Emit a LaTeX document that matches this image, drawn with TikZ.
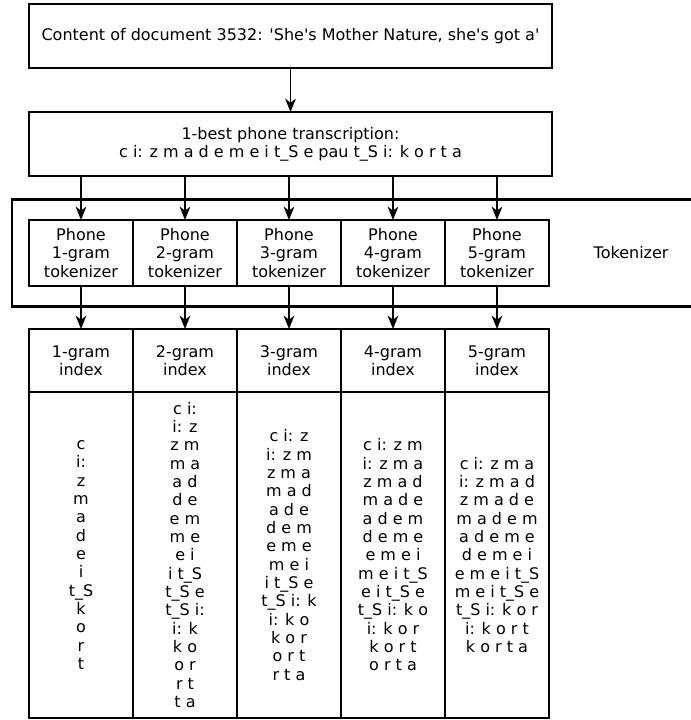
\documentclass[tikz,border=0pt]{standalone}
\usepackage{fontspec}
\setmainfont{DejaVu Sans}
\usetikzlibrary{positioning,fit,arrows.meta,backgrounds}
\pgfdeclarelayer{background}
\pgfsetlayers{background,main}
\tikzstyle{element} = [rectangle, draw=black, line width=1.9pt, outer sep=0pt, align=center, fill=white, font=\fontsize{12pt}{13.75pt}\selectfont]
\tikzstyle{group} = [rectangle, draw=black, line width=1.9pt, inner xsep=12.75pt, inner ysep=15.4pt]
\tikzstyle{arrow} = [line width=1.2pt, -{Stealth[length=10pt,width=8pt,inset=3pt]}]
\tikzstyle{caption} = [font=\fontsize{12pt}{13.75pt}\selectfont]

\begin{document}
\begin{tikzpicture}[x=0.75pt,y=-0.75pt]
    \useasboundingbox (0,0) rectangle (690,720);
    % Input ------------------------------------------------------------------------------------
    \node[element, minimum width=392.25pt, minimum height=48pt] (doc) at (290.5,36) {Content of document 3532: \textquotesingle She\textquotesingle s Mother Nature, she\textquotesingle s got a\textquotesingle};
    \node[element, minimum width=392.25pt, minimum height=48pt, below=33pt of doc] (trans) {1-best phone transcription:\\c i: z m a d e m e i t\_S e pau t\_S i: k o r t a};
    % Tokenizer --------------------------------------------------------------------------------
    \node[element, minimum width=78pt, minimum height=49.5pt, below right=33pt and 0pt of trans.south west] (tok1) {Phone\\1-gram\\tokenizer};
    \node[element, minimum width=78pt, minimum height=49.5pt, right=0pt of tok1] (tok2) {Phone\\2-gram\\tokenizer};
    \node[element, minimum width=78pt, minimum height=49.5pt, right=0pt of tok2] (tok3) {Phone\\3-gram\\tokenizer};
    \node[element, minimum width=78pt, minimum height=49.5pt, right=0pt of tok3] (tok4) {Phone\\4-gram\\tokenizer};
    \node[element, minimum width=78pt, minimum height=49.5pt, right=0pt of tok4] (tok5) {Phone\\5-gram\\tokenizer};
    \node[caption, right=30pt of tok5] (tok_label) {Tokenizer};
    \coordinate[right=130pt of tok5.east] (tok_edge);
    % Tokenizer group
    \begin{pgfonlayer}{background}
        \node[group, fit={(tok1) (tok5) (tok_edge)}] (tokenizer) {};
    \end{pgfonlayer}
    % Index ------------------------------------------------------------------------------------
    \node[element, minimum width=78pt, minimum height=47.25pt, below=32.25pt of tok1] (idx1) {1-gram\\index};
    \node[element, minimum width=78pt, minimum height=47.25pt, right=0pt of idx1] (idx2) {2-gram\\index};
    \node[element, minimum width=78pt, minimum height=47.25pt, right=0pt of idx2] (idx3) {3-gram\\index};
    \node[element, minimum width=78pt, minimum height=47.25pt, right=0pt of idx3] (idx4) {4-gram\\index};
    \node[element, minimum width=78pt, minimum height=47.25pt, right=0pt of idx4] (idx5) {5-gram\\index};
    % Index entries
    \node[element, minimum width=78pt, minimum height=244.5pt, below=0pt of idx1] (list1) {c\\i:\\z\\m\\a\\d\\e\\i\\t\_S\\k\\o\\r\\t};
    \node[element, minimum width=78pt, minimum height=244.5pt, below=0pt of idx2] (list2) {c i:\\i: z\\z m\\m a\\a d\\d e\\e m\\m e\\e i\\i t\_S\\t\_S e\\t\_S i:\\i: k\\k o\\o r\\r t\\t a};
    \node[element, minimum width=78pt, minimum height=244.5pt, below=0pt of idx3] (list3) {c i: z\\i: z m\\z m a\\m a d\\a d e\\d e m\\e m e\\m e i\\i t\_S e\\t\_S i: k\\i: k o\\k o r\\o r t\\r t a};
    \node[element, minimum width=78pt, minimum height=244.5pt, below=0pt of idx4] (list4) {c i: z m\\i: z m a\\z m a d\\m a d e\\a d e m\\d e m e\\e m e i\\m e i t\_S\\e i t\_S e\\t\_S i: k o\\i: k o r\\k o r t\\o r t a};
    \node[element, minimum width=78pt, minimum height=244.5pt, below=0pt of idx5] (list5) {c i: z m a\\i: z m a d\\z m a d e\\m a d e m\\a d e m e\\d e m e i\\e m e i t\_S\\m e i t\_S e\\t\_S i: k o r\\i: k o r t\\k o r t a};
    % Arrows -----------------------------------------------------------------------------------
    \draw[arrow] (doc.south) -- (trans.north);
    \draw[arrow] (tok1.north |- trans.south) -- (tok1.north);
    \draw[arrow] (tok2.north |- trans.south) -- (tok2.north);
    \draw[arrow] (tok3.north |- trans.south) -- (tok3.north);
    \draw[arrow] (tok4.north |- trans.south) -- (tok4.north);
    \draw[arrow] (tok5.north |- trans.south) -- (tok5.north);
    \draw[arrow] (tok1.south) -- (idx1.north);
    \draw[arrow] (tok2.south) -- (idx2.north);
    \draw[arrow] (tok3.south) -- (idx3.north);
    \draw[arrow] (tok4.south) -- (idx4.north);
    \draw[arrow] (tok5.south) -- (idx5.north);
\end{tikzpicture}
\end{document}
